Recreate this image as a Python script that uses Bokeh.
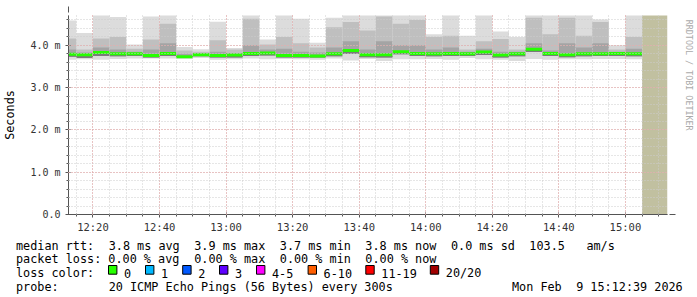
from bokeh.plotting import figure
from bokeh.models import FixedTicker, Range1d, Arrow, NormalHead
from bokeh.layouts import column, row
from bokeh.embed import file_html
from bokeh.resources import INLINE
from bokeh.core.properties import value
import math
import re

# ---------------- data (ms) ----------------
bar_times = ["12:10", "12:15", "12:20", "12:25", "12:30", "12:35", "12:40", "12:45",
             "12:50", "12:55", "13:00", "13:05", "13:10", "13:15", "13:20", "13:25",
             "13:30", "13:35", "13:40", "13:45", "13:50", "13:55", "14:00", "14:05",
             "14:10", "14:15", "14:20", "14:25", "14:30", "14:35", "14:40", "14:45",
             "14:50", "14:55", "15:00"]
rtt_max = [4.59, 4.29, 4.75, 4.67, 4.02, 4.68, 4.75, 3.96, 3.91, 4.56, 3.94, 4.75,
           4.14, 4.75, 4.63, 4.06, 4.65, 4.75, 4.75, 4.75, 4.75, 4.75, 4.26, 4.75,
           4.23, 4.75, 4.33, 4.20, 4.75, 4.75, 4.75, 4.75, 4.61, 4.00, 4.75]
rtt_upper = [4.16, 3.90, 4.16, 4.20, 3.92, 4.14, 4.51, 3.88, 3.85, 4.12, 3.90, 4.63,
             4.02, 4.20, 4.05, 3.95, 4.43, 4.55, 4.35, 4.68, 4.51, 4.60, 4.20, 4.23,
             3.90, 4.10, 4.15, 3.90, 4.65, 4.26, 4.65, 4.23, 4.55, 3.90, 4.20]
rtt_q75 = [3.90, 3.83, 3.95, 3.90, 3.85, 3.90, 4.05, 3.80, 3.82, 3.85, 3.82, 4.00,
           3.90, 3.92, 3.85, 3.83, 3.95, 4.10, 3.90, 4.10, 4.00, 4.00, 3.90, 3.95,
           3.85, 3.92, 3.85, 3.85, 4.05, 3.88, 4.05, 3.95, 4.05, 3.85, 3.92]
rtt_median = [3.79, 3.78, 3.83, 3.80, 3.80, 3.76, 3.81, 3.73, 3.78, 3.76, 3.77, 3.81,
              3.82, 3.76, 3.76, 3.75, 3.80, 3.88, 3.78, 3.78, 3.85, 3.81, 3.80, 3.81,
              3.80, 3.84, 3.77, 3.80, 3.91, 3.81, 3.78, 3.80, 3.80, 3.81, 3.80]
rtt_q25 = [3.73, 3.70, 3.75, 3.74, 3.75, 3.71, 3.75, 3.70, 3.74, 3.71, 3.71, 3.75,
           3.76, 3.71, 3.71, 3.71, 3.74, 3.80, 3.72, 3.71, 3.79, 3.75, 3.74, 3.75,
           3.75, 3.77, 3.71, 3.74, 3.84, 3.75, 3.72, 3.74, 3.75, 3.75, 3.74]
rtt_min = [3.66, 3.67, 3.66, 3.68, 3.69, 3.69, 3.69, 3.68, 3.70, 3.66, 3.67, 3.69,
           3.67, 3.68, 3.67, 3.66, 3.69, 3.64, 3.68, 3.63, 3.67, 3.67, 3.68, 3.66,
           3.70, 3.67, 3.66, 3.63, 3.68, 3.66, 3.67, 3.67, 3.68, 3.68, 3.67]
bar_minutes = 5
view_start = "12:12:39"
view_end = "15:12:39"
unknown_start = "15:05"
y_top = 4.706

x_tick_labels = ["12:20", "12:40", "13:00", "13:20", "13:40", "14:00", "14:20", "14:40", "15:00"]
y_tick_values = [0, 1, 2, 3, 4]
y_tick_labels = ["0.0", "1.0 m", "2.0 m", "3.0 m", "4.0 m"]

legend_rtt = "median rtt:  3.8 ms avg  3.9 ms max  3.7 ms min  3.8 ms now  0.0 ms sd  103.5   am/s"
legend_loss = "packet loss: 0.00 % avg  0.00 % max  0.00 % min  0.00 % now"
legend_color = "loss color:"
loss_names = ["0", "1", "2", "3", "4-5", "6-10", "11-19", "20/20"]
loss_colors = ["#26ff00", "#00b8ff", "#0059ff", "#5e00ff", "#ff00ff", "#ff5e00", "#ff0000", "#a10000"]
probe_text = "probe:       20 ICMP Echo Pings (56 Bytes) every 300s"
date_text = "Mon Feb  9 15:12:39 2026"
y_title = "Seconds"
side_text = "RRDTOOL / TOBI OETIKER"


def to_min(s):
    parts = [int(v) for v in s.split(":")]
    while len(parts) < 3:
        parts.append(0)
    return (parts[0] - 12) * 60 + parts[1] + parts[2] / 60.0


x0 = [to_min(t) for t in bar_times]
x1 = [v + bar_minutes for v in x0]
xs = to_min(view_start)
xe = to_min(view_end)

W, H = 697, 297
FL, FT, FR, FB = 67, 15, 667, 215   # plot frame edges (page pixels)
PW, PH = 680, 235                   # main figure size
MONO = "DejaVu Sans Mono"
FS = "11.8px"
ADV = 7.13                          # monospace column width in the legend

p = figure(width=PW, height=PH, output_backend="svg", toolbar_location=None,
           x_range=Range1d(xs, xe), y_range=Range1d(0, y_top),
           min_border_left=FL, min_border_right=PW - FR, min_border_top=FT,
           min_border_bottom=PH - FB)
p.background_fill_color = "white"
p.border_fill_color = "white"
p.outline_line_color = None

# unknown region
p.quad(left=[to_min(unknown_start)], right=[xe], bottom=[0], top=[y_top + 1],
       fill_color="#c1c0a0", line_color=None)

# smoke
p.quad(left=x0, right=x1, bottom=rtt_min, top=rtt_max, fill_color="#dcdcdc", line_color=None)
p.quad(left=x0, right=x1, bottom=rtt_q25, top=rtt_upper, fill_color="#bfbfbf", line_color=None)
p.quad(left=x0, right=x1, bottom=rtt_q25, top=rtt_q75, fill_color="#a4a4a4", line_color=None)
p.quad(left=x0, right=x1, bottom=rtt_q25, top=rtt_median, fill_color="#7a7a7a", line_color=None)
p.segment(x0=x0, x1=x1, y0=rtt_median, y1=rtt_median, line_color=loss_colors[0],
          line_width=3, line_cap="butt")

# axes / ticks
x_ticks = [to_min(t) for t in x_tick_labels]
p.xaxis.ticker = FixedTicker(ticks=x_ticks, minor_ticks=[to_min("12:15") + 5 * i for i in range(36)])
p.xaxis.major_label_overrides = {t: l for t, l in zip(x_ticks, x_tick_labels)}
p.yaxis.ticker = FixedTicker(ticks=y_tick_values, minor_ticks=[i * 0.2 for i in range(24)])
p.yaxis.major_label_overrides = {t: l for t, l in zip(y_tick_values, y_tick_labels)}

for ax in (p.xaxis[0], p.yaxis[0]):
    ax.axis_line_color = "#555555"
    ax.major_tick_line_color = "#555555"
    ax.minor_tick_line_color = "#555555"
    ax.major_tick_in = 2
    ax.major_tick_out = 3
    ax.minor_tick_in = 1
    ax.minor_tick_out = 2
    ax.major_label_text_font = MONO
    ax.major_label_text_color = "#333333"
p.yaxis.major_label_text_font_size = "10px"
p.yaxis.major_label_standoff = 5
p.xaxis.major_label_text_font_size = "10.5px"
p.xaxis.major_label_standoff = 3
p.yaxis.axis_label = y_title
p.yaxis.axis_label_text_font = MONO
p.yaxis.axis_label_text_font_size = FS
p.yaxis.axis_label_text_font_style = "normal"
p.yaxis.axis_label_text_color = "#000000"
p.yaxis.axis_label_standoff = 10

for g in (p.xgrid[0], p.ygrid[0]):
    g.level = "overlay"
    g.grid_line_color = "#eaa0a0"
    g.grid_line_dash = "1 2"
    g.minor_grid_line_color = "#cccccc"
    g.minor_grid_line_dash = "1 2"

# axis arrows (beyond frame)
p.add_layout(Arrow(x_start=0, y_start=-4, x_end=0, y_end=FB - 7, start_units="screen",
                   end_units="screen", line_color="#555555", line_width=1,
                   end=NormalHead(size=6, fill_color="#9b1b1b", line_color="#9b1b1b")))
p.add_layout(Arrow(x_start=-5, y_start=0, x_end=FR - FL + 7, y_end=0, start_units="screen",
                   end_units="screen", line_color="#555555", line_width=1,
                   end=NormalHead(size=6, fill_color="#9b1b1b", line_color="#9b1b1b")))


def blank(w, h, xr, yr):
    f = figure(width=w, height=h, output_backend="svg", toolbar_location=None,
               x_range=xr, y_range=yr, x_axis_type=None, y_axis_type=None,
               min_border=0, min_border_left=0, min_border_right=0,
               min_border_top=0, min_border_bottom=0)
    f.grid.visible = False
    f.outline_line_color = None
    f.background_fill_color = "white"
    f.border_fill_color = "white"
    return f


# right strip with the RRDtool credit (data coords == page pixels)
pr = blank(W - PW, PH, Range1d(PW, W), Range1d(PH, 0))
pr.text(x=[688], y=[5], text=[side_text], angle=-math.pi / 2, text_font=value(MONO),
        text_font_size=value("8.4px"), text_color="#aaaaaa", text_align="left",
        text_baseline="middle")

# legend strip below (data coords == page pixels)
pl = blank(W, H - PH, Range1d(0, W), Range1d(H, PH))
LX = 15.5
base = [245.2, 258.6, 272.6, 286.2]


def mono_line(fig, x_start, y, line):
    """Place runs of a fixed-column legend line at their character columns."""
    xs_, ys_, ts_ = [], [], []
    for m in re.finditer(r"\S+(?: \S+)*", line):
        xs_.append(x_start + m.start() * ADV)
        ys_.append(y)
        ts_.append(m.group(0))
    fig.text(x=xs_, y=ys_, text=ts_, text_font=value(MONO), text_font_size=value(FS),
             text_color="#000000", text_align="left", text_baseline="alphabetic")


mono_line(pl, LX, base[0], legend_rtt)
mono_line(pl, LX, base[1], legend_loss)
mono_line(pl, LX, base[2], legend_color)
mono_line(pl, LX, base[3], probe_text)
mono_line(pl, 511.5, base[3], date_text)

box_x = [108, 145, 182.2, 219, 256, 307.6, 365.3, 429.8]
pl.quad(left=box_x, right=[b + 8.4 for b in box_x], top=[265] * len(box_x),
        bottom=[273.7] * len(box_x), fill_color=loss_colors, line_color="#000000", line_width=1)
pl.text(x=[b + 15.5 for b in box_x], y=[base[2]] * len(box_x), text=loss_names,
        text_font=value(MONO), text_font_size=value(FS), text_color="#000000",
        text_align="left", text_baseline="alphabetic")

layout = column(row(p, pr, spacing=0), pl, spacing=0)
open("out.html", "w").write(file_html(layout, INLINE))
